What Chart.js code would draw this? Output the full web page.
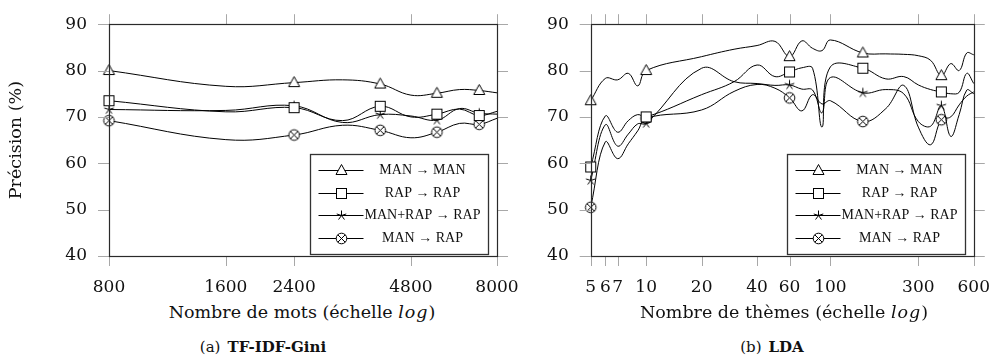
<!DOCTYPE html>
<html>
<head>
<meta charset="utf-8">
<script src="https://cdn.jsdelivr.net/npm/chart.js@4"></script>
<style>
  body { margin: 0; background: #fff; }
  #wrap { position: relative; width: 1003px; height: 358px; overflow: hidden; font-family: "DejaVu Serif", serif; color: #111; }
  canvas { position: absolute; top: 0; }
  .xtitle { position: absolute; top: 302px; width: 400px; text-align: center; font-size: 17.5px; line-height: 20px; }
  .xtitle i { font-style: italic; letter-spacing: 1px; }
  .caption { position: absolute; top: 337px; width: 300px; text-align: center; font-size: 15px; line-height: 20px; }
  .caption b { margin-left: 7px; }
</style>
</head>
<body>
<div id="wrap">
  <canvas id="tfidf" width="540" height="300" style="left:0"></canvas>
  <canvas id="lda" width="503" height="300" style="left:500px"></canvas>
  <div class="xtitle" style="left:102px">Nombre de mots (échelle <i>log</i>)</div>
  <div class="xtitle" style="left:584px">Nombre de thèmes (échelle <i>log</i>)</div>
  <div class="caption" style="left:113px">(a)<b>TF-IDF-Gini</b></div>
  <div class="caption" style="left:622px">(b)<b>LDA</b></div>
</div>
<script>
// ---- data ----
const seriesLabels = ["MAN \u2192 MAN", "RAP \u2192 RAP", "MAN+RAP \u2192 RAP", "MAN \u2192 RAP"];

// (a) TF-IDF-Gini, x = number of words
const wordCounts = [800, 1600, 2400, 3200, 4000, 4800, 5600, 6400, 7200, 8000];
const tfidfManMan = [80.0, 76.6, 77.4, 78.0, 77.1, 74.7, 75.1, 75.9, 75.7, 75.2];
const tfidfRapRap = [73.5, 71.1, 72.0, 69.2, 72.3, 70.0, 70.6, 71.7, 70.3, 71.2];
const tfidfMixRap = [71.6, 71.4, 72.4, 68.8, 70.5, 70.2, 69.3, 71.8, 70.8, 70.6];
const tfidfManRap = [69.2, 65.1, 66.1, 68.2, 67.1, 65.5, 66.7, 68.6, 68.4, 69.7];
const wordTicks = [800, 1600, 2400, 4800, 8000];

// (b) LDA, x = number of topics
const topicCounts = [5, 6, 7, 8, 9, 10, 20, 30, 40, 50, 60, 70, 80, 90, 100, 150, 200, 250, 300, 350, 400, 450, 500, 550, 600];
const ldaManMan = [73.5, 78.3, 78.0, 79.4, 76.7, 80.0, 83.0, 84.6, 85.4, 86.3, 83.0, 86.4, 84.8, 84.3, 86.6, 83.8, 83.6, 83.5, 83.2, 82.2, 78.9, 81.5, 80.0, 83.8, 83.4];
const ldaRapRap = [59.2, 70.2, 66.7, 69.2, 70.5, 70.0, 74.8, 77.6, 81.2, 78.7, 79.7, 80.6, 80.5, 67.8, 80.8, 80.5, 78.2, 78.7, 76.9, 75.9, 75.4, 75.0, 75.3, 79.4, 77.2];
const ldaMixRap = [56.3, 68.3, 63.7, 66.3, 68.5, 68.6, 80.5, 77.6, 77.2, 76.8, 76.9, 76.0, 75.8, 70.9, 78.5, 75.2, 75.9, 75.0, 69.0, 68.0, 72.4, 65.8, 70.5, 75.8, 75.0];
const ldaManRap = [50.5, 64.6, 61.0, 64.2, 67.0, 69.7, 71.5, 75.5, 77.0, 76.2, 74.1, 71.3, 74.8, 72.8, 73.5, 69.0, 71.8, 76.8, 67.8, 64.0, 69.4, 70.0, 72.6, 74.5, 75.4];
const topicTicks = [5, 6, 7, 10, 20, 40, 60, 100, 300, 600];

const precisionTicks = [40, 50, 60, 70, 80, 90];

// ---- marks (pgfplots style: triangle, square, star, otimes) ----
function makeMark(draw) {
    const c = document.createElement("canvas");
    c.width = 15; c.height = 15;
    const g = c.getContext("2d");
    g.translate(7.5, 7.5);
    g.strokeStyle = "#000";
    g.fillStyle = "#fff";
    g.lineWidth = 1;
    draw(g);
    return c;
}
const marks = [
    makeMark(g => {
        g.beginPath(); g.moveTo(0, -6); g.lineTo(5.5, 4); g.lineTo(-5.5, 4); g.closePath();
        g.fill(); g.stroke();
    }),
    makeMark(g => { g.fillRect(-5, -5, 10, 10); g.strokeRect(-5, -5, 10, 10); }),
    makeMark(g => {
        g.beginPath();
        for (let k = 0; k < 5; k++) {
            const a = -Math.PI / 2 + k * 2 * Math.PI / 5;
            g.moveTo(0, 0); g.lineTo(5 * Math.cos(a), 5 * Math.sin(a));
        }
        g.stroke();
    }),
    makeMark(g => {
        g.beginPath(); g.arc(0, 0, 5.3, 0, 2 * Math.PI); g.fill(); g.stroke();
        const d = 5.3 * Math.SQRT1_2;
        g.beginPath(); g.moveTo(-d, -d); g.lineTo(d, d); g.moveTo(d, -d); g.lineTo(-d, d); g.stroke();
    })
];

// ---- frame, outer ticks and in-plot legend ----
const legendRows = [15, 38, 60, 83];
const axisBox = {
    id: "axisBox",
    afterDraw(chart) {
        const { ctx, chartArea: a, scales } = chart;
        ctx.save();
        ctx.strokeStyle = "#a8a8a8";
        ctx.lineWidth = 1;
        ctx.beginPath();
        scales.x.ticks.forEach(t => {
            const px = Math.round(scales.x.getPixelForValue(t.value)) + 0.5;
            ctx.moveTo(px, a.top); ctx.lineTo(px, a.top - 10);
            ctx.moveTo(px, a.bottom); ctx.lineTo(px, a.bottom + 10);
        });
        scales.y.ticks.forEach(t => {
            const py = Math.round(scales.y.getPixelForValue(t.value)) + 0.5;
            ctx.moveTo(a.left, py); ctx.lineTo(a.left - 11, py);
            ctx.moveTo(a.right, py); ctx.lineTo(a.right + 11, py);
        });
        ctx.stroke();

        ctx.strokeStyle = "#2a2a2a";
        ctx.lineWidth = 1.2;
        ctx.strokeRect(Math.round(a.left) + 0.5, Math.round(a.top) + 0.5, Math.round(a.right - a.left), Math.round(a.bottom - a.top));

        // legend
        const w = 178, h = 100;
        const lx = Math.round(a.right - 9 - w) + 0.5, ly = Math.round(a.bottom - 2 - h) + 0.5;
        ctx.fillStyle = "#fff";
        ctx.fillRect(lx, ly, w, h);
        ctx.strokeStyle = "#333";
        ctx.lineWidth = 1.3;
        ctx.strokeRect(lx, ly, w, h);
        ctx.font = "14px 'Liberation Serif'";
        ctx.textAlign = "center";
        ctx.textBaseline = "middle";
        chart.data.datasets.forEach((ds, i) => {
            const yy = Math.round(ly + legendRows[i]) + 0.5;
            ctx.strokeStyle = "#000";
            ctx.lineWidth = 1;
            ctx.beginPath(); ctx.moveTo(lx + 8, yy); ctx.lineTo(lx + 53, yy); ctx.stroke();
            ctx.drawImage(marks[i], lx + 31 - 7.5, yy - 7.5);
            ctx.fillStyle = "#111";
            ctx.fillText(ds.label, lx + 112, yy);
        });
        ctx.restore();
    }
};

function makeDatasets(xs, ys, step) {
    return ys.map((vals, i) => ({
        label: seriesLabels[i],
        data: vals.map((v, k) => ({ x: xs[k], y: v })),
        borderColor: "#000",
        borderWidth: 1,
        tension: 0.4,
        clip: false,
        pointStyle: marks[i],
        pointRadius: c => (c.dataIndex % step === 0 ? 5 : 0),
        pointHoverRadius: 0
    }));
}

const tickFont = { family: "DejaVu Serif", size: 17 };

function makeChart(id, xs, ys, step, xTicks, xMin, xMax, yWidth, rightPad, yTitle) {
    return new Chart(document.getElementById(id), {
        type: "line",
        data: { datasets: makeDatasets(xs, ys, step) },
        options: {
            responsive: false,
            animation: false,
            layout: { padding: { left: 0, right: rightPad, top: 20, bottom: 0 } },
            plugins: { legend: { display: false }, tooltip: { enabled: false } },
            scales: {
                x: {
                    type: "logarithmic",
                    min: xMin,
                    max: xMax,
                    grid: { display: false },
                    border: { display: false },
                    afterBuildTicks: s => { s.ticks = xTicks.map(v => ({ value: v })); },
                    afterFit: s => { s.height = 44; },
                    ticks: {
                        autoSkip: false, maxRotation: 0, padding: 13,
                        font: tickFont, color: "#111",
                        callback: v => String(v)
                    }
                },
                y: {
                    min: 40,
                    max: 90,
                    grid: { display: false },
                    border: { display: false },
                    afterBuildTicks: s => { s.ticks = precisionTicks.map(v => ({ value: v })); },
                    afterFit: s => { s.width = yWidth; },
                    title: {
                        display: !!yTitle, text: yTitle || "",
                        font: { family: "DejaVu Serif", size: 17.5 }, color: "#111",
                        padding: { top: 6, bottom: 0 }
                    },
                    ticks: { padding: 14, font: tickFont, color: "#111" }
                }
            }
        },
        plugins: [axisBox]
    });
}

makeChart("tfidf", wordCounts, [tfidfManMan, tfidfRapRap, tfidfMixRap, tfidfManRap], 2,
    wordTicks, 800, 8000, 109, 43, "Précision (%)");
makeChart("lda", topicCounts, [ldaManMan, ldaRapRap, ldaMixRap, ldaManRap], 5,
    topicTicks, 5, 600, 90.7, 24.3, null);
</script>
</body>
</html>
